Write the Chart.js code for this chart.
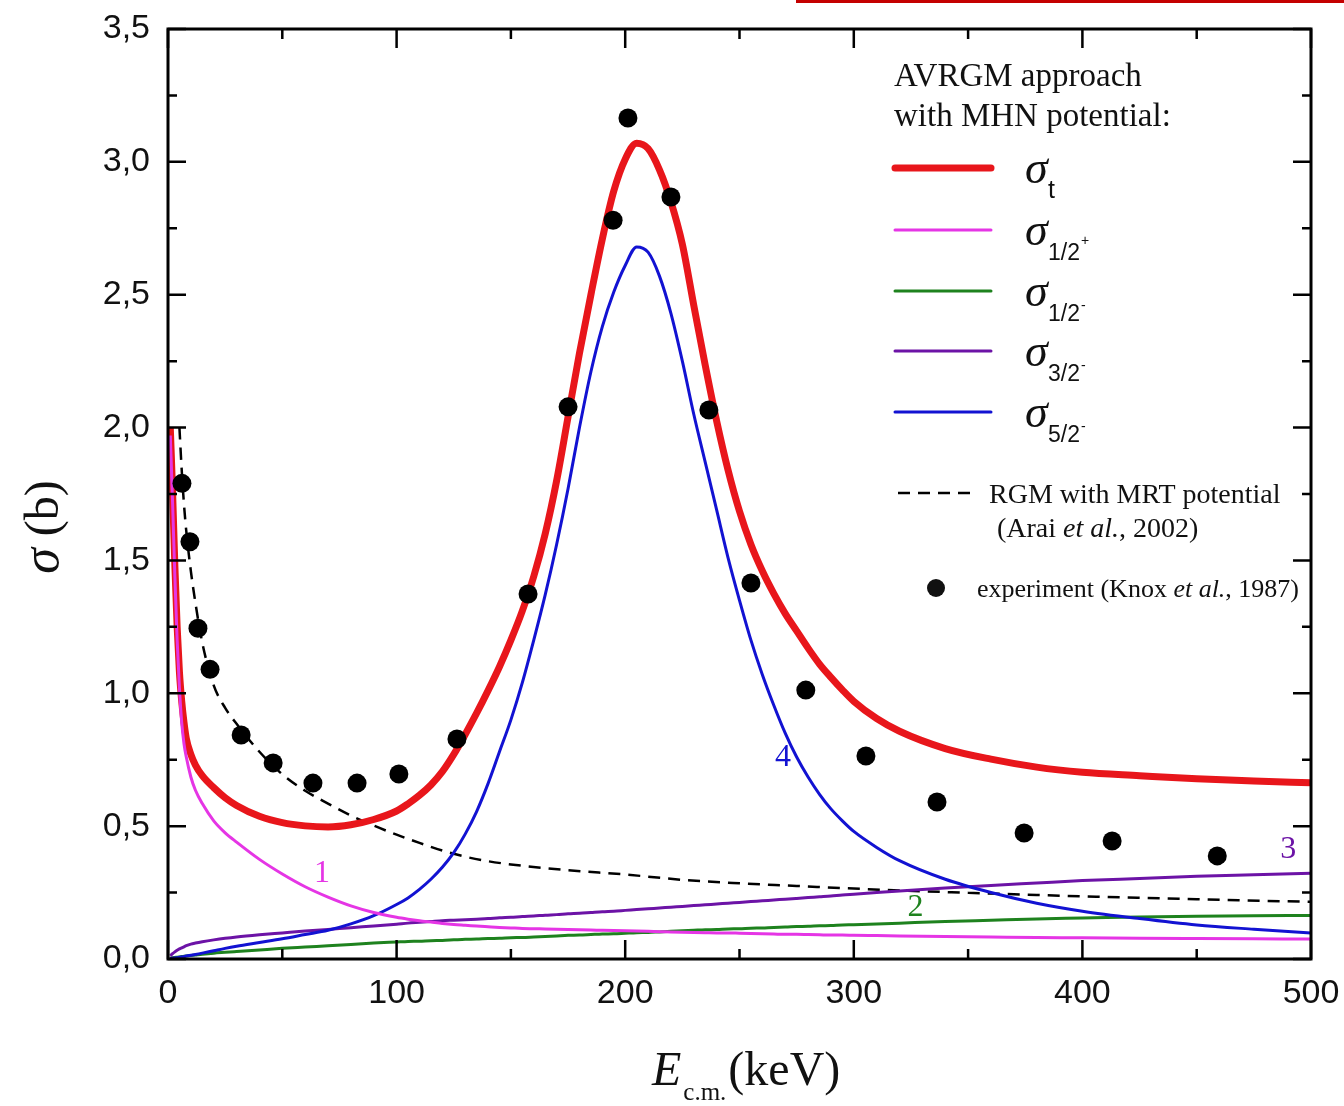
<!DOCTYPE html>
<html>
<head>
<meta charset="utf-8">
<title>Cross section</title>
<script src="https://cdn.jsdelivr.net/npm/chart.js@4.4.0/dist/chart.umd.min.js"></script>
<style>
  html, body { margin: 0; padding: 0; background: #fff; }
  canvas { display: block; }
</style>
</head>
<body>
<canvas id="chart" width="1344" height="1106"></canvas>
<script>
// energy grid (keV) shared by the AVRGM curves
const energy = [1, 2, 3, 4, 5, 6, 7, 8, 10, 12, 15, 20, 25, 30, 40, 50, 60, 70, 80, 90,
  100, 105, 110, 115, 120, 125, 130, 135, 140, 145,
  150, 155, 160, 165, 170, 175, 180, 185, 190, 195,
  200, 205, 210, 215, 220, 225, 230, 235, 240, 245,
  250, 255, 260, 265, 270, 275, 280, 285, 290, 295,
  300, 310, 320, 340, 360, 380, 400, 425, 450, 475, 500];

const sigmaTotal = [2.00, 1.76, 1.48, 1.25, 1.08, 0.97, 0.89, 0.83, 0.77, 0.73, 0.69, 0.645, 0.607,
  0.578, 0.537, 0.513, 0.501, 0.497, 0.505, 0.525,
  0.557, 0.584, 0.616, 0.655, 0.705, 0.77, 0.845, 0.925, 1.01, 1.10,
  1.20, 1.31, 1.44, 1.60, 1.80, 2.04, 2.28, 2.50, 2.71, 2.89,
  3.01, 3.07, 3.05, 2.97, 2.85, 2.69, 2.46, 2.235, 2.025, 1.84,
  1.685, 1.56, 1.46, 1.375, 1.30, 1.235, 1.17, 1.11, 1.06, 1.013,
  0.97, 0.905, 0.857, 0.792, 0.752, 0.722, 0.703, 0.69, 0.678, 0.67, 0.663];

const sigmaHalfPlus = [1.97, 1.72, 1.44, 1.20, 1.02, 0.89, 0.81, 0.76, 0.685, 0.635, 0.585, 0.52,
  0.475, 0.44, 0.375, 0.32, 0.272, 0.233, 0.20, 0.175,
  0.157, 0.150, 0.144, 0.139, 0.134, 0.130, 0.127, 0.124, 0.121, 0.119,
  0.117, 0.115, 0.114, 0.113, 0.112, 0.111, 0.110, 0.109, 0.108, 0.107,
  0.106, 0.105, 0.104, 0.103, 0.102, 0.101, 0.100, 0.099, 0.098, 0.098,
  0.097, 0.096, 0.095, 0.094, 0.093, 0.093, 0.092, 0.091, 0.090, 0.090,
  0.089, 0.088, 0.087, 0.085, 0.083, 0.081, 0.080, 0.078, 0.077, 0.076, 0.075];

const sigmaHalfMinus = [0.003, 0.005, 0.006, 0.007, 0.008, 0.009, 0.010, 0.011, 0.013, 0.015, 0.018,
  0.022, 0.025, 0.028, 0.034, 0.040, 0.045, 0.050, 0.055, 0.060,
  0.064, 0.066, 0.067, 0.069, 0.070, 0.072, 0.074, 0.075, 0.077, 0.078,
  0.080, 0.081, 0.083, 0.085, 0.087, 0.089, 0.090, 0.092, 0.094, 0.095,
  0.097, 0.099, 0.100, 0.102, 0.104, 0.106, 0.108, 0.110, 0.111, 0.113,
  0.114, 0.116, 0.117, 0.119, 0.120, 0.122, 0.123, 0.125, 0.126, 0.128,
  0.129, 0.132, 0.135, 0.141, 0.146, 0.151, 0.154, 0.158, 0.161, 0.163, 0.164];

const sigmaThreeHalf = [0.012, 0.020, 0.027, 0.033, 0.038, 0.042, 0.046, 0.050, 0.056, 0.060, 0.065,
  0.072, 0.078, 0.083, 0.091, 0.098, 0.105, 0.111, 0.118, 0.124,
  0.131, 0.135, 0.138, 0.141, 0.144, 0.146, 0.148, 0.150, 0.152, 0.155,
  0.157, 0.160, 0.162, 0.165, 0.167, 0.170, 0.172, 0.175, 0.178, 0.180,
  0.183, 0.186, 0.189, 0.192, 0.195, 0.198, 0.201, 0.204, 0.207, 0.210,
  0.213, 0.216, 0.219, 0.222, 0.225, 0.228, 0.231, 0.234, 0.237, 0.241,
  0.244, 0.250, 0.256, 0.267, 0.277, 0.286, 0.295, 0.303, 0.311, 0.317, 0.323];

const sigmaFiveHalf = [0.001, 0.003, 0.004, 0.005, 0.007, 0.008, 0.009, 0.011, 0.014, 0.017, 0.022,
  0.031, 0.040, 0.048, 0.062, 0.076, 0.092, 0.108, 0.132, 0.163,
  0.205, 0.23, 0.262, 0.30, 0.345, 0.40, 0.47, 0.555, 0.66, 0.78,
  0.90, 1.04, 1.20, 1.37, 1.56, 1.77, 2.00, 2.21, 2.38, 2.51,
  2.61, 2.68, 2.66, 2.57, 2.43, 2.25, 2.05, 1.87, 1.69, 1.51,
  1.35, 1.20, 1.07, 0.955, 0.85, 0.76, 0.685, 0.62, 0.565, 0.52,
  0.48, 0.42, 0.37, 0.30, 0.25, 0.21, 0.18, 0.152, 0.128, 0.112, 0.098];

// RGM with MRT potential (Arai et al., 2002)
const rgmEnergy = [5, 6, 7, 8, 10, 12, 15, 20, 25, 30, 40, 50, 60, 70, 80, 90, 100, 110, 120, 130,
  140, 150, 175, 200, 225, 250, 275, 300, 350, 400, 450, 500];
const rgmSigma = [2.0, 1.84, 1.71, 1.61, 1.46, 1.34, 1.19, 1.03, 0.945, 0.885, 0.78, 0.695, 0.633,
  0.585, 0.54, 0.502, 0.468, 0.437, 0.408, 0.385, 0.368, 0.356, 0.334, 0.318, 0.298, 0.285, 0.275,
  0.265, 0.249, 0.236, 0.225, 0.215];

// experiment (Knox et al., 1987)
const expEnergy = [6.1, 9.6, 13.1, 18.4, 32, 46, 63.4, 82.7, 101, 126.4, 157.5, 175, 194.7, 201.2,
  220, 236.6, 255, 279, 305.3, 336.4, 374.5, 413, 459];
const expSigma = [1.79, 1.57, 1.245, 1.09, 0.843, 0.738, 0.662, 0.662, 0.696, 0.828, 1.374, 2.078,
  2.78, 3.165, 2.868, 2.066, 1.415, 1.012, 0.764, 0.591, 0.474, 0.444, 0.388];

const xTickLabels = ['0', '100', '200', '300', '400', '500'];
const yTickLabels = ['0,0', '0,5', '1,0', '1,5', '2,0', '2,5', '3,0', '3,5'];

const colors = {
  total: '#e8161b',
  halfPlus: '#e535e5',
  halfMinus: '#1e821e',
  threeHalf: '#6c13a6',
  fiveHalf: '#1212d2'
};

const SERIF = '"Liberation Serif", "Times New Roman", serif';
const SANS = '"Liberation Sans", Arial, sans-serif';

function toPoints(xs, ys) {
  return xs.map((x, i) => ({ x: x, y: ys[i] }));
}

function curve(label, data, color, width, order) {
  return {
    label: label,
    data: data,
    showLine: true,
    borderColor: color,
    borderWidth: width,
    pointRadius: 0,
    cubicInterpolationMode: 'monotone',
    fill: false,
    order: order
  };
}

// frame, inward ticks, axis titles and the hand-made legend
const decorations = {
  id: 'decorations',
  afterDatasetsDraw(chart) {
    const ctx = chart.ctx;
    const { left, right, top, bottom } = chart.chartArea;
    const xs = chart.scales.x, ys = chart.scales.y;

    ctx.save();
    ctx.strokeStyle = '#000';
    ctx.lineWidth = 3;
    ctx.strokeRect(left, top, right - left, bottom - top);

    ctx.lineWidth = 2.5;
    ctx.beginPath();
    for (let v = 0; v <= 500; v += 50) {
      const px = xs.getPixelForValue(v);
      const len = v % 100 === 0 ? 19 : 10;
      ctx.moveTo(px, bottom); ctx.lineTo(px, bottom - len);
      ctx.moveTo(px, top); ctx.lineTo(px, top + len);
    }
    for (let v = 0; v <= 3.5; v += 0.25) {
      const py = ys.getPixelForValue(v);
      const len = Math.round(v * 4) % 2 === 0 ? 18 : 9;
      ctx.moveTo(left, py); ctx.lineTo(left + len, py);
      ctx.moveTo(right, py); ctx.lineTo(right - len, py);
    }
    ctx.stroke();

    ctx.fillStyle = '#111';
    ctx.textBaseline = 'alphabetic';
    ctx.textAlign = 'left';

    // y title
    ctx.save();
    ctx.translate(58, 527);
    ctx.rotate(-Math.PI / 2);
    ctx.font = 'italic 52px ' + SERIF;
    const wSig = ctx.measureText('σ').width;
    ctx.font = '48px ' + SERIF;
    const wB = ctx.measureText(' (b)').width;
    let sx = -(wSig + wB) / 2;
    ctx.font = 'italic 52px ' + SERIF;
    ctx.fillText('σ', sx, 0);
    ctx.font = '48px ' + SERIF;
    ctx.fillText(' (b)', sx + wSig, 0);
    ctx.restore();

    // x title
    ctx.font = 'italic 48px ' + SERIF;
    ctx.fillText('E', 652, 1085);
    const wE = ctx.measureText('E').width;
    ctx.font = '25px ' + SERIF;
    ctx.fillText('c.m.', 652 + wE + 2, 1100);
    const wCm = ctx.measureText('c.m.').width;
    ctx.font = '48px ' + SERIF;
    ctx.fillText('(keV)', 652 + wE + wCm + 4, 1085);

    // legend block
    ctx.font = '33px ' + SERIF;
    ctx.fillText('AVRGM approach', 894, 86);
    ctx.fillText('with MHN potential:', 894, 126);

    const entries = [
      { y: 168, color: colors.total, width: 7, sub: 't', sup: '', subFont: '25px ' + SANS },
      { y: 230, color: colors.halfPlus, width: 3, sub: '1/2', sup: '+', subFont: '23px ' + SANS },
      { y: 291, color: colors.halfMinus, width: 3, sub: '1/2', sup: '-', subFont: '23px ' + SANS },
      { y: 351, color: colors.threeHalf, width: 3, sub: '3/2', sup: '-', subFont: '23px ' + SANS },
      { y: 412, color: colors.fiveHalf, width: 3, sub: '5/2', sup: '-', subFont: '23px ' + SANS }
    ];
    entries.forEach(e => {
      ctx.strokeStyle = e.color;
      ctx.lineWidth = e.width;
      ctx.lineCap = 'round';
      ctx.beginPath();
      ctx.moveTo(895, e.y); ctx.lineTo(991, e.y);
      ctx.stroke();
      ctx.lineCap = 'butt';
      ctx.fillStyle = '#111';
      ctx.font = 'italic 46px ' + SERIF;
      ctx.fillText('σ', 1025, e.y + 15);
      ctx.font = e.subFont;
      ctx.fillText(e.sub, 1048, e.y + 30);
      const w = ctx.measureText(e.sub).width;
      if (e.sup) {
        ctx.font = '14px ' + SANS;
        ctx.fillText(e.sup, 1048 + w + 1, e.y + (e.sup === '+' ? 15 : 19));
      }
    });

    ctx.strokeStyle = '#000';
    ctx.lineWidth = 2.5;
    ctx.setLineDash([12, 8]);
    ctx.beginPath();
    ctx.moveTo(898, 493); ctx.lineTo(972, 493);
    ctx.stroke();
    ctx.setLineDash([]);

    const mixed = (parts, x, y, size) => {
      parts.forEach(p => {
        ctx.font = (p.italic ? 'italic ' : '') + size + 'px ' + SERIF;
        ctx.fillText(p.t, x, y);
        x += ctx.measureText(p.t).width;
      });
    };
    ctx.fillStyle = '#111';
    mixed([{ t: 'RGM with MRT potential' }], 989, 503, 28);
    mixed([{ t: '(Arai ' }, { t: 'et al.', italic: true }, { t: ', 2002)' }], 997, 537, 28);

    ctx.beginPath();
    ctx.arc(936, 588, 9, 0, Math.PI * 2);
    ctx.fill();
    mixed([{ t: 'experiment (Knox ' }, { t: 'et al.', italic: true }, { t: ', 1987)' }], 977, 597, 26);

    // curve numbers
    ctx.font = '32px ' + SERIF;
    ctx.textAlign = 'center';
    ctx.textBaseline = 'middle';
    [['1', colors.halfPlus, 67.4, 0.32], ['2', colors.halfMinus, 327, 0.195],
     ['3', colors.threeHalf, 490, 0.41], ['4', colors.fiveHalf, 269, 0.757]].forEach(l => {
      ctx.fillStyle = l[1];
      ctx.fillText(l[0], xs.getPixelForValue(l[2]), ys.getPixelForValue(l[3]));
    });

    // red rule at the top edge of the page
    ctx.fillStyle = '#c40000';
    ctx.fillRect(796, 0, 548, 3);
    ctx.restore();
  }
};

new Chart(document.getElementById('chart'), {
  type: 'scatter',
  data: {
    datasets: [
      {
        label: 'experiment (Knox et al., 1987)',
        data: toPoints(expEnergy, expSigma),
        pointRadius: 9.5,
        pointBackgroundColor: '#000',
        pointBorderWidth: 0,
        showLine: false,
        order: 0
      },
      curve('σt', toPoints(energy, sigmaTotal), colors.total, 7, 2),
      curve('σ1/2+', toPoints(energy, sigmaHalfPlus), colors.halfPlus, 3, 1),
      curve('σ1/2-', toPoints(energy, sigmaHalfMinus), colors.halfMinus, 3, 5),
      curve('σ3/2-', toPoints(energy, sigmaThreeHalf), colors.threeHalf, 3, 4),
      curve('σ5/2-', toPoints(energy, sigmaFiveHalf), colors.fiveHalf, 3, 3),
      Object.assign(curve('RGM with MRT potential', toPoints(rgmEnergy, rgmSigma), '#000', 2.5, 6),
        { borderDash: [12, 8] })
    ]
  },
  options: {
    responsive: false,
    animation: false,
    layout: { padding: { top: 29, right: 33, left: 0, bottom: 0 } },
    plugins: {
      legend: { display: false },
      tooltip: { enabled: false }
    },
    scales: {
      x: {
        type: 'linear',
        min: 0,
        max: 500,
        ticks: {
          stepSize: 100,
          padding: 4,
          autoSkip: false,
          maxRotation: 0,
          color: '#111',
          // tall line height keeps the labels low while the small padding
          // keeps the plot's right edge where it belongs
          font: { family: SANS, size: 34, lineHeight: 1.82 },
          callback: (value, index) => xTickLabels[index]
        },
        grid: { display: false, drawTicks: false },
        border: { display: false },
        afterFit: (scale) => { scale.height = 147; }
      },
      y: {
        type: 'linear',
        min: 0,
        max: 3.5,
        ticks: {
          stepSize: 0.5,
          padding: 18,
          autoSkip: false,
          color: '#111',
          font: { family: SANS, size: 34, lineHeight: 0.5 },
          callback: (value, index) => yTickLabels[index]
        },
        grid: { display: false, drawTicks: false },
        border: { display: false },
        afterFit: (scale) => { scale.width = 168; }
      }
    }
  },
  plugins: [decorations]
});
</script>
</body>
</html>
